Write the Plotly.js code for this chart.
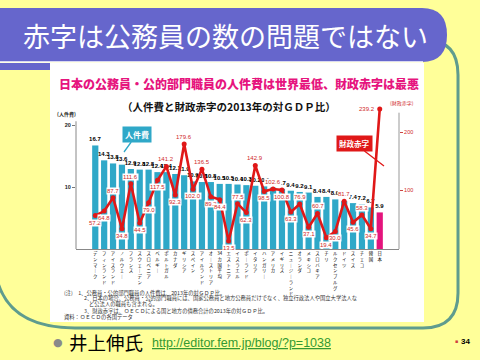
<!DOCTYPE html>
<html><head><meta charset="utf-8">
<script src="https://cdn.plot.ly/plotly-3.0.1.min.js"></script>
<style>html,body{margin:0;padding:0;background:#ffff99;}#chart{width:480px;height:360px;}</style>
</head><body><div id="chart"></div>
<script>
// ---- data ----
const countries = ['デンマーク','フィンランド','アイスランド','ノルウェー','フランス','スウェーデン','スロベニア','ベルギー','ポルトガル','カナダ','ギリシア','スペイン','アイルランド','オーストリア','34カ国平均','エストニア','イスラエル','ポーランド','イタリア','ハンガリー','アメリカ','イギリス','ニュージーランド','オランダ','メキシコ','スロバキア','チリ','ルクセンブルグ','ドイツ','スイス','チェコ','韓国','日本'];
const personnelCost = [16.7,14.3,13.8,13.6,12.9,12.8,12.8,12.4,12.4,12.1,11.9,10.9,10.8,10.8,10.5,10.5,10.4,10.3,10.2,10.1,9.9,9.7,9.4,9.2,9.1,8.4,8.4,8.0,7.7,7.4,7.2,6.7,5.9];
const fiscalDeficit = [57.2,64.8,87.7,34.8,111.6,44.5,79.0,117.5,141.2,92.3,179.6,102.0,136.5,89.2,84.4,13.5,77.5,62.3,142.9,98.5,102.6,100.8,63.3,76.9,37.1,60.7,19.4,30.0,81.7,45.6,58.3,34.7,239.2];
const leftTicks = [10,20];
const rightTicks = [100,200];
const slideTitle = '赤字は公務員の数の問題ではない';
const chartTitle = '日本の公務員・公的部門職員の人件費は世界最低、財政赤字は最悪';
const chartSubtitle = '（人件費と財政赤字の2013年の対ＧＤＰ比）';
const notes = [
  '(注)　1、公務員・公的部門職員の人件費は、2013年の対ＧＤＰ比。',
  '2、日本の場合、公務員・公的部門職員には、国家公務員と地方公務員だけでなく、独立行政法人や国立大学法人な',
  'ど公法人の職員も含まれる。',
  '3、財政赤字は、ＯＥＣＤによる国と地方の債務合計の2013年の対ＧＤＰ比。',
  '資料：ＯＥＣＤの各国データ'
];
const author = '井上伸氏';
const url = 'http://editor.fem.jp/blog/?p=1038';
const pageNo = '34';

// ---- geometry helpers (plot area: x 76..399, y 105..249 px) ----
const L = 76, R = 399, T = 105, B = 249;
const px = x => (x - L) / (R - L);
const py = y => (B - y) / (B - T);
function pth(cmds){
  return cmds.map(c => {
    const pts = [];
    for (let i = 1; i < c.length; i += 2) pts.push(px(c[i]).toFixed(4) + ',' + py(c[i+1]).toFixed(4));
    return c[0] + ' ' + pts.join(' ');
  }).join(' ');
}

const TEAL = '#2fa8c8', RED = '#e01818', MAG = '#e4147c';
const vert = s => s.match(/[0-9]+|./g).map(c => c === 'ー' ? '｜' : c).join('<br>');

const barColors = countries.map(c => c === '日本' ? MAG : TEAL);

const bars = {
  type:'bar', x: countries, y: personnelCost, yaxis:'y',
  marker:{color: barColors},
  text: personnelCost.map(v => v.toFixed(1)), textposition:'outside', constraintext:'none', cliponaxis:false,
  textfont:{family:'Liberation Sans Narrow, Liberation Sans, Arial', size:6, color:'#000', weight:'bold'},
  hoverinfo:'skip'
};
const line = {
  type:'scatter', mode:'lines+markers', x: countries, y: fiscalDeficit, yaxis:'y2',
  line:{color:RED, width:2.6}, marker:{color:RED, size:5}, cliponaxis:false, hoverinfo:'skip'
};

// deficit value labels
const n = fiscalDeficit.length;
const defAnn = fiscalDeficit.map((v,i) => {
  const prev = i>0 ? fiscalDeficit[i-1] : -1, next = i<n-1 ? fiscalDeficit[i+1] : -1;
  const last = i === n-1;
  const peak = i>0 && v > prev && v > next;
  return {x: countries[i], y: v, xref:'x', yref:'y2', xanchor: last ? 'right' : 'center', yanchor:'middle',
    text: v.toFixed(1), showarrow:false,
    font:{family:'Liberation Sans, Arial', size:6, color:'#d02828'}, bgcolor: last ? 'rgba(0,0,0,0)' : '#ffffff', borderpad:0,
    xshift: last ? -4 : 0, yshift: last ? 0 : (peak ? 7 : -7)};
});

const A = (x,y,text,font,extra) => Object.assign({xref:'paper', yref:'paper', x:px(x), y:py(y), xanchor:'center', yanchor:'middle', text, showarrow:false, font}, extra||{});
const CJK = 'Noto Sans CJK JP';

const annotations = [
  A(225, 36, slideTitle, {family:CJK, size:27, color:'#ffffff'}),
  A(239, 83, chartTitle, {family:CJK, size:12, color:'#e6157e', weight:900}),
  A(229, 106, '<b>'+chartSubtitle+'</b>', {family:CJK, size:10.5, color:'#111'}),
  A(66, 114, '<b>(人件費)</b>', {family:CJK, size:5, color:'#222'}),
  A(402, 103, '(財政赤字)', {family:CJK, size:5, color:'#d02828'}),
  Object.assign(A(124, 152, '<b>人件費</b>', {family:CJK, size:8, color:'#fff'}), {showarrow:true, arrowhead:0, arrowwidth:1.3, arrowcolor:TEAL, ax:13, ay:-18, bgcolor:TEAL, borderpad:2}),
  Object.assign(A(384, 166, '<b>財政赤字</b>', {family:CJK, size:7.5, color:'#fff'}), {showarrow:true, arrowhead:0, arrowwidth:1.3, arrowcolor:RED, ax:-30, ay:-23, bgcolor:RED, borderpad:2}),
  A(62, 292.5, notes[0], {family:CJK, size:5.3, color:'#333'}, {xanchor:'left'}),
  A(82, 298, notes[1], {family:CJK, size:5.3, color:'#333'}, {xanchor:'left'}),
  A(87, 304, notes[2], {family:CJK, size:5.3, color:'#333'}, {xanchor:'left'}),
  A(82, 310.5, notes[3], {family:CJK, size:5.3, color:'#333'}, {xanchor:'left'}),
  A(62, 316.5, notes[4], {family:CJK, size:5.3, color:'#333'}, {xanchor:'left'}),
  A(58, 342, '●', {family:'DejaVu Sans', size:11, color:'#8a8a8a'}),
  A(67, 342, author, {family:CJK, size:18.5, color:'#000'}, {xanchor:'left'}),
  A(150, 343, '<span style="text-decoration:underline">'+url+'</span>', {family:'Liberation Sans, Arial', size:12.5, color:'#339933'}, {xanchor:'left'}),
  A(456, 341, '▪', {family:'DejaVu Sans', size:5, color:'#d04040'}),
  A(459, 341, '<b>'+pageNo+'</b>', {family:'Liberation Sans, Arial', size:8, color:'#000'}, {xanchor:'left'})
].concat(defAnn);

const shapes = [
  {type:'rect', xref:'paper', yref:'paper', x0:px(50), x1:px(424), y0:py(63), y1:py(322), fillcolor:'#ffffff', line:{width:0}, layer:'below'},
  {type:'path', xref:'paper', yref:'paper', layer:'below', line:{color:'#5f9c8e', width:3},
   path: pth([['M',-2,283],['Q',12,328,75,328],['L',423,328],['Q',458,328,458,293],['L',458,75],['Q',458,40,425,40]])},
  {type:'path', xref:'paper', yref:'paper', layer:'below', fillcolor:'#6666cc', line:{width:0},
   path: pth([['M',-2,8],['L',422,8],['Q',447,8,447,35],['Q',447,62,422,62],['L',-2,62]]) + ' Z'},
  {type:'rect', xref:'paper', yref:'paper', layer:'below', x0:px(-2), x1:px(50), y0:py(63), y1:py(70), fillcolor:'#6666cc', line:{width:0}},
  {type:'line', xref:'paper', yref:'paper', layer:'below', x0:px(-2), x1:px(423), y0:py(62), y1:py(62), line:{color:'#ffffff', width:1.5}},
  {type:'line', xref:'paper', yref:'y', x0:0, x1:0, y0:0, y1:20.6, line:{color:'#888', width:1}},
  {type:'line', xref:'paper', yref:'y2', x0:1, x1:1, y0:0, y1:233, line:{color:'#999', width:1}}
];

const layout = {
  width:480, height:360,
  margin:{l:L, r:480-R, t:T, b:360-B, pad:0},
  paper_bgcolor:'#ffff99', plot_bgcolor:'rgba(0,0,0,0)',
  showlegend:false, bargap:0.3,
  font:{family:CJK},
  xaxis:{type:'category', tickmode:'array', tickvals:countries, ticktext:countries.map(vert),
    tickfont:{family:CJK, size:4.4, color:'#000'}, showline:true, linecolor:'#888', linewidth:1, ticks:'', showgrid:false, zeroline:false, fixedrange:true},
  yaxis:{range:[0,(B-T)/6.2], tickmode:'array', tickvals:leftTicks, ticksuffix:'%', ticks:'outside', ticklen:3, tickcolor:'#777',
    tickfont:{family:'Liberation Sans, Arial', size:5.5, color:'#222', weight:'bold'}, showline:false, showgrid:false, zeroline:false},
  yaxis2:{overlaying:'y', side:'right', range:[0,(B-T)/0.585], tickmode:'array', tickvals:rightTicks, ticksuffix:'%', ticks:'outside', ticklen:3, tickcolor:'#c44',
    tickfont:{family:'Liberation Sans, Arial', size:5.5, color:'#d02828'}, showline:false, showgrid:false, zeroline:false},
  shapes, annotations
};

Plotly.newPlot('chart', [bars, line], layout, {displayModeBar:false, staticPlot:true});
</script>
</body></html>
